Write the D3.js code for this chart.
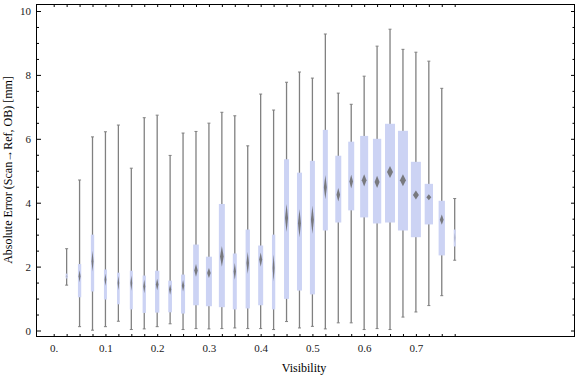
<!DOCTYPE html>
<html>
<head>
<meta charset="utf-8">
<script src="https://cdn.jsdelivr.net/npm/d3@7"></script>
<style>
body { margin: 0; background: #fff; }
svg { display: block; }
.axis text { font-family: "Liberation Serif", "Times New Roman", serif; font-size: 11px; fill: #1a1a1a; }
.axis line { stroke: #000; }
.title { font-family: "Liberation Serif", "Times New Roman", serif; font-size: 12px; fill: #000; }
</style>
</head>
<body>
<div id="chart"></div>
<script>
// categories (visibility bins)
var visibility = [0.025, 0.05, 0.075, 0.1, 0.125, 0.15, 0.175, 0.2, 0.225, 0.25,
	0.275, 0.3, 0.325, 0.35, 0.375, 0.4, 0.425, 0.45, 0.475, 0.5,
	0.525, 0.55, 0.575, 0.6, 0.625, 0.65, 0.675, 0.7, 0.725, 0.75, 0.775];

// box-whisker statistics, absolute error in mm
var mins = [1.42, 0.12, 0.01, 0.12, 0.29, 0.03, 0.05, 0.12, 0.21, 0.03,
	0.06, 0.05, 0.06, 0.08, 0.06, 0.06, 0.03, 0.28, 0.08, 0.13,
	0.05, 0.24, 0.24, 0.03, 0.06, 0.03, 0.42, 0.58, 0.78, 1.09, 2.20];
var q1s = [1.63, 1.04, 1.22, 0.97, 0.82, 0.66, 0.55, 0.56, 0.57, 0.53,
	0.79, 0.76, 0.73, 0.66, 0.69, 0.79, 0.66, 0.99, 1.25, 1.13,
	3.13, 3.38, 3.76, 3.54, 3.35, 3.38, 3.13, 2.92, 3.32, 2.35, 2.63];
var medians = [1.70, 1.70, 2.17, 1.59, 1.49, 1.49, 1.38, 1.44, 1.28, 1.40,
	1.88, 1.80, 2.32, 1.85, 2.11, 2.22, 1.96, 3.52, 3.36, 3.47,
	4.49, 4.25, 4.66, 4.70, 4.65, 4.96, 4.70, 4.24, 4.17, 3.47, 2.90];
var q3s = [1.78, 2.08, 3.00, 1.91, 1.81, 1.87, 1.72, 1.87, 1.56, 1.75,
	2.69, 2.31, 3.96, 2.41, 3.16, 2.66, 3.00, 5.36, 4.94, 5.31,
	6.28, 5.47, 5.91, 6.09, 6.00, 6.47, 6.25, 5.28, 4.59, 4.06, 3.16];
var maxs = [2.56, 4.71, 6.06, 6.22, 6.43, 5.08, 6.66, 6.74, 5.48, 6.18,
	6.23, 6.49, 6.83, 6.72, 5.78, 7.40, 6.90, 7.77, 8.09, 7.90,
	9.28, 7.43, 7.08, 7.96, 8.90, 9.43, 8.80, 8.71, 8.43, 7.58, 4.13];
// relative weight of each bin (drives box width)
var weights = [2, 3.3, 3.3, 3, 2.7, 3, 3.3, 4.3, 3.7, 4,
	5.7, 6, 6, 4, 4.3, 5, 3.3, 5, 5, 5,
	5, 6, 6, 8, 8.3, 10, 10, 10, 8.3, 6.3, 2];

// tick labels
var xTickValues = [0].concat(visibility);
var xTickLabels = ["0.", "0.1", "0.2", "0.3", "0.4", "0.5", "0.6", "0.7"];
var yMajor = [0, 2, 4, 6, 8, 10];
var yMinor = [0.5, 1, 1.5, 2.5, 3, 3.5, 4.5, 5, 5.5, 6.5, 7, 7.5, 8.5, 9, 9.5];

var width = 576, height = 377;
var frame = { left: 36, right: 575, top: 4, bottom: 337 };

var svg = d3.select("#chart").append("svg")
	.attr("width", width)
	.attr("height", height);

var x = d3.scaleLinear().domain([0, 0.775]).range([53.7, 454.7]);
var y = d3.scaleLinear().domain([0, 10]).range([330.5, 11]);
var w = d3.scaleLinear().domain([0, 10]).range([0, 10]);

var rows = visibility.map(function(v, i) {
	return { v: v, min: mins[i], q1: q1s[i], med: medians[i], q3: q3s[i], max: maxs[i], wt: weights[i] };
});

// blur for the median diamonds
var defs = svg.append("defs");
defs.append("filter").attr("id", "soft")
	.attr("x", "-100%").attr("y", "-50%").attr("width", "300%").attr("height", "200%")
	.append("feGaussianBlur").attr("stdDeviation", 0.7);

var boxes = svg.append("g").attr("class", "boxes");

var g = boxes.selectAll(".bw")
	.data(rows)
	.enter().append("g")
	.attr("class", "bw")
	.attr("transform", function(d) { return "translate(" + x(d.v) + ",0)"; });

// whiskers
g.append("line")
	.attr("x1", 0).attr("x2", 0)
	.attr("y1", function(d) { return y(d.max); })
	.attr("y2", function(d) { return y(d.min); })
	.attr("stroke", "#808080")
	.attr("stroke-width", 1.3);

g.selectAll(".cap")
	.data(function(d) { return [d.min, d.max]; })
	.enter().append("line")
	.attr("class", "cap")
	.attr("x1", -1.5).attr("x2", 1.5)
	.attr("y1", function(d) { return y(d); })
	.attr("y2", function(d) { return y(d); })
	.attr("stroke", "#808080")
	.attr("stroke-width", 1);

// boxes
g.append("rect")
	.attr("x", function(d) { return -w(d.wt) / 2; })
	.attr("width", function(d) { return w(d.wt); })
	.attr("y", function(d) { return y(d.q3); })
	.attr("height", function(d) { return y(d.q1) - y(d.q3); })
	.attr("fill", "#ccd3f4");

// median diamonds (height ~ notch size)
g.append("path")
	.attr("d", function(d) {
		var bw = w(d.wt);
		var hw = Math.max(0.8, bw * 0.3);
		var hh = Math.min(14, Math.max(2, 0.6 * (y(d.q1) - y(d.q3)) / bw));
		var cy = y(d.med);
		return "M0," + (cy - hh) + "L" + hw + "," + cy + "L0," + (cy + hh) + "L" + (-hw) + "," + cy + "Z";
	})
	.attr("fill", "#6a6a6a")
	.attr("opacity", function(d) { return w(d.wt) < 2.5 ? 0.25 : 0.85; })
	.attr("filter", "url(#soft)");

// axes
function clean(sel) { sel.select(".domain").remove(); }

svg.append("g").attr("class", "axis")
	.attr("transform", "translate(0," + frame.bottom + ")")
	.call(d3.axisBottom(x).tickValues(xTickValues).tickSize(-3).tickPadding(7)
		.tickFormat(function(d, i) { return i % 4 === 0 ? xTickLabels[i / 4] : ""; }))
	.call(clean);

svg.append("g").attr("class", "axis")
	.attr("transform", "translate(0," + frame.top + ")")
	.call(d3.axisTop(x).tickValues(xTickValues).tickSize(-3).tickFormat(""))
	.call(clean);

svg.append("g").attr("class", "axis")
	.attr("transform", "translate(" + frame.left + ",0)")
	.call(d3.axisLeft(y).tickValues(yMajor).tickSize(-5).tickPadding(5).tickFormat(d3.format("d")))
	.call(clean);

svg.append("g").attr("class", "axis")
	.attr("transform", "translate(" + frame.left + ",0)")
	.call(d3.axisLeft(y).tickValues(yMinor).tickSize(-3).tickFormat(""))
	.call(clean);

svg.append("g").attr("class", "axis")
	.attr("transform", "translate(" + frame.right + ",0)")
	.call(d3.axisRight(y).tickValues(yMajor).tickSize(-4).tickFormat(""))
	.call(clean);

svg.append("g").attr("class", "axis")
	.attr("transform", "translate(" + frame.right + ",0)")
	.call(d3.axisRight(y).tickValues(yMinor).tickSize(-2.5).tickFormat(""))
	.call(clean);

// frame
svg.append("rect")
	.attr("x", frame.left + 0.5)
	.attr("y", frame.top + 0.5)
	.attr("width", frame.right - frame.left - 1)
	.attr("height", frame.bottom - frame.top - 1)
	.attr("fill", "none")
	.attr("stroke", "#000")
	.attr("stroke-width", 1);

// axis titles
svg.append("text")
	.attr("class", "title")
	.attr("x", 304)
	.attr("y", 372)
	.attr("text-anchor", "middle")
	.text("Visibility");

svg.append("text")
	.attr("class", "title")
	.attr("transform", "translate(12,170) rotate(-90)")
	.attr("text-anchor", "middle")
	.text("Absolute Error (Scan\u2192Ref, OB) [mm]");
</script>
</body>
</html>
